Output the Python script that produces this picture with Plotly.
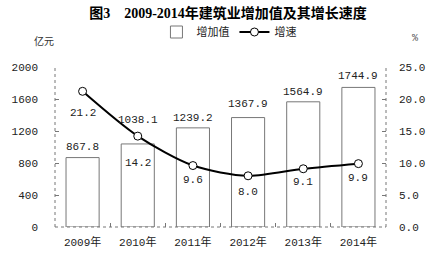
import plotly.graph_objects as go

years = ["2009年", "2010年", "2011年", "2012年", "2013年", "2014年"]
value_added = [867.8, 1038.1, 1239.2, 1367.9, 1564.9, 1744.9]
growth = [21.2, 14.2, 9.6, 8.0, 9.1, 9.9]
left_ticks = [0, 400, 800, 1200, 1600, 2000]
right_ticks = [0, 5, 10, 15, 20, 25]

# label offsets (pixels)
bar_label_shift = [11, 24, 10, 14, 10, 11]
line_label_shift = [-22, -27, -14, -16, -13, -14]

NUM_FONT = "Liberation Mono, Noto Sans CJK SC"
CJK_FONT = "Noto Sans CJK SC"
AX = "#777777"

L, R, T, B = 53, 54, 67, 39
pw, ph = 440 - L - R, 266 - T - B

fig = go.Figure()
fig.add_trace(go.Bar(
    x=years, y=value_added, name="增加值",
    marker=dict(color="white", line=dict(color=AX, width=1)),
    width=0.6, yaxis="y",
))
fig.add_trace(go.Scatter(
    x=years, y=growth, name="增速", yaxis="y2", mode="lines+markers",
    line=dict(color="black", width=2, shape="spline", smoothing=0.8),
    marker=dict(symbol="circle", size=8, color="white", line=dict(color="black", width=1)),
))

ann = []
for x, v, s in zip(years, value_added, bar_label_shift):
    ann.append(dict(x=x, y=v, xref="x", yref="y", text=f"{v:.1f}", showarrow=False,
                    yshift=s, font=dict(family=NUM_FONT, size=11, color="#222")))
for x, v, s in zip(years, growth, line_label_shift):
    ann.append(dict(x=x, y=v, xref="x", yref="y2", text=f"{v:.1f}", showarrow=False,
                    yshift=s, font=dict(family=NUM_FONT, size=11, color="#222")))
ann.append(dict(x=(30 - L) / pw, y=1 + (T - 31) / ph, xref="paper", yref="paper",
                text="亿元", showarrow=False,
                font=dict(family=CJK_FONT, size=10, color="#333")))
ann.append(dict(x=(420 - L) / pw, y=1 + (T - 31) / ph, xref="paper", yref="paper",
                text="%", showarrow=False,
                font=dict(family=NUM_FONT, size=10, color="#555")))

fig.update_layout(
    width=440, height=266,
    margin=dict(l=L, r=R, t=T, b=B),
    paper_bgcolor="white", plot_bgcolor="white",
    title=dict(text="<b>图3    2009-2014年建筑业增加值及其增长速度</b>",
               x=228 / 440, xanchor="center", y=1 - 13 / 266, yanchor="middle",
               font=dict(family="Liberation Serif, Noto Sans CJK SC", size=14, color="black")),
    showlegend=True,
    legend=dict(orientation="h", x=(228 - L) / pw, xanchor="center",
                y=1 + (T - 32) / ph, yanchor="middle",
                font=dict(family=CJK_FONT, size=11, color="#222"),
                bgcolor="rgba(0,0,0,0)", itemwidth=30, tracegroupgap=0),
    xaxis=dict(showgrid=False, showline=False, ticks="inside", tickson="boundaries",
               ticklen=4, tickcolor=AX, ticklabelstandoff=7,
               tickfont=dict(family=NUM_FONT, size=11, color="#222")),
    yaxis=dict(range=[0, 2000], tickvals=left_ticks, showgrid=False, zeroline=False,
               showline=False, ticks="inside", ticklen=4, tickcolor=AX,
               ticklabelstandoff=16,
               tickfont=dict(family=NUM_FONT, size=11, color="#222")),
    yaxis2=dict(range=[0, 25], tickvals=right_ticks, ticktext=[f"{t:.1f}" for t in right_ticks],
                overlaying="y", side="right", showgrid=False, zeroline=False,
                showline=False, ticks="inside", ticklen=4, tickcolor=AX,
                ticklabelstandoff=12,
                tickfont=dict(family=NUM_FONT, size=11, color="#222")),
    annotations=ann,
    shapes=[
        dict(type="line", xref="paper", yref="paper", x0=0, x1=0, y0=0, y1=1,
             line=dict(color=AX, width=1, dash="dot")),
        dict(type="line", xref="paper", yref="paper", x0=1, x1=1, y0=0, y1=1,
             line=dict(color=AX, width=1, dash="dot")),
        dict(type="line", xref="paper", yref="paper", x0=0, x1=1, y0=0, y1=0,
             line=dict(color=AX, width=1, dash="dot")),
    ],
)

fig.write_html("out.html")
